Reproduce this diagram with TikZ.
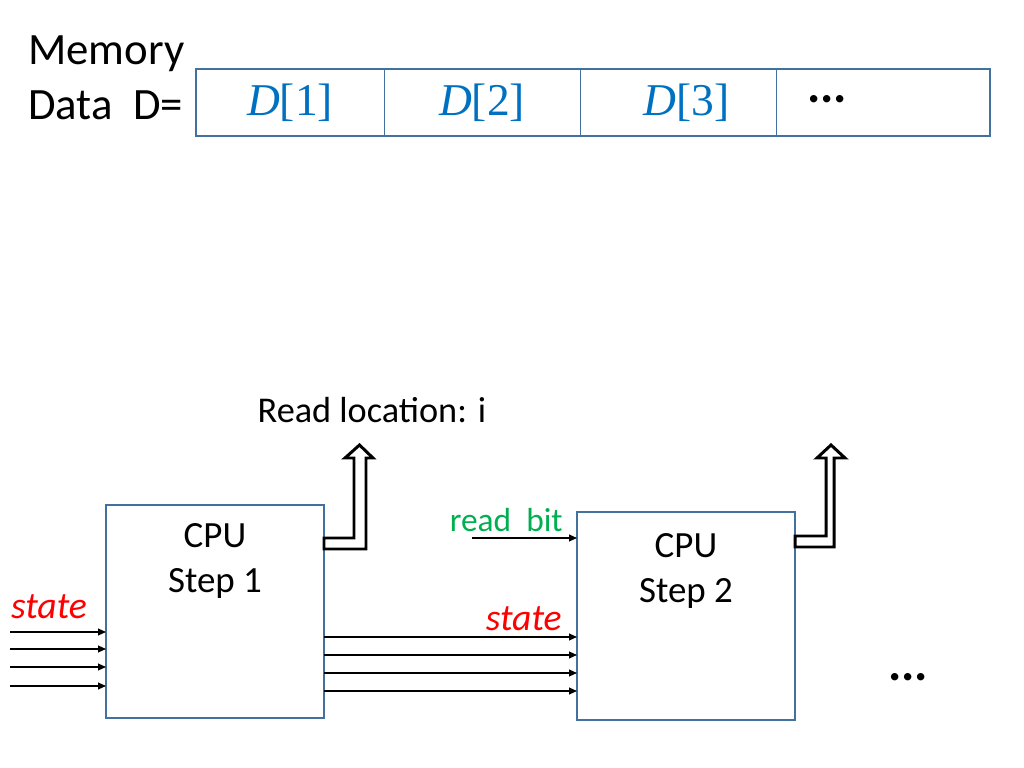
\documentclass[tikz,border=0pt]{standalone}
\usepackage{fontspec}
\setmainfont{Carlito}
\newfontfamily\cellfont{Liberation Serif}
\usetikzlibrary{arrows.meta,positioning,calc}
\definecolor{boxblue}{HTML}{41719C}
\definecolor{cellblue}{HTML}{0070C0}
\definecolor{statered}{HTML}{FF0000}
\definecolor{bitgreen}{HTML}{00B050}
\def\px{0.703125pt}
\tikzset{
  cell/.style={draw=boxblue,line width=0.7pt,minimum height=67*\px,inner sep=0pt,outer sep=0pt,
    text=cellblue,font=\cellfont\fontsize{32}{38}\selectfont},
  memory/.style={draw=boxblue,line width=1.8pt},
  cpu/.style={draw=boxblue,line width=1.4pt,minimum width=218*\px,inner sep=0pt,outer sep=0pt},
  cputext/.style={align=center,inner sep=0pt,font=\fontsize{26}{31.6}\selectfont},
  sig/.style={line width=1pt,-{Triangle[length=5.6pt,width=4.8pt]}},
  bent/.style={draw=black,fill=white,line width=2.1pt,line join=miter},
  statelbl/.style={text=statered,inner sep=0pt,font=\itshape\fontsize{26.5}{30}\selectfont},
  moredots/.style={inner sep=0pt,font=\bfseries\fontsize{35}{38}\selectfont}
}
\begin{document}
\begin{tikzpicture}[x=\px,y=-\px]
  \useasboundingbox (0,0) rectangle (1024,768);
  \node[align=left,inner sep=0pt,anchor=north west,font=\fontsize{31.5}{38.7}\selectfont] (memlbl) at (28,35)
    {Memory\\Data\ \ D=};
  \node[cell,minimum width=188*\px] (cell1) at (290,102.5) {\raisebox{-3pt}{\textit{D}[1]}};
  \node[cell,minimum width=196*\px,right=0pt of cell1] (cell2) {\textit{D}[2]\hspace{10pt}};
  \node[cell,minimum width=196*\px,right=0pt of cell2] (cell3) {\hspace{12pt}\raisebox{-3pt}{\textit{D}[3]}};
  \node[cell,minimum width=214*\px,right=0pt of cell3] (cell4) {};
  \draw[memory] (cell1.north west) rectangle (cell4.south east);
  \node[moredots] (memdots) at (827,99) {...};

  \node[cpu,minimum height=213*\px] (cpu1) at (215,611.5) {};
  \node[cpu,minimum height=208*\px] (cpu2) at (686,616) {};
  \node[cputext,below=18*\px of cpu1.north] (cpu1txt) {CPU\\Step 1};
  \node[cputext,below=21*\px of cpu2.north] (cpu2txt) {CPU\\Step 2};

  \draw[bent] ($(cpu1.north east)+(0,33)$) -- ++(30,0) -- ++(0,-80) -- ++(-9,0)
    -- ++(14.5,-13) -- ++(13.5,13) -- ++(-7,0) -- ++(0,91) -- ++(-42,0) -- cycle;
  \draw[bent] ($(cpu2.north east)+(0,24)$) -- ++(31,0) -- ++(0,-78) -- ++(-9,0)
    -- ++(14,-13) -- ++(14,13) -- ++(-11,0) -- ++(0,89) -- ++(-39,0) -- cycle;
  \node[inner sep=0pt,font=\fontsize{25.5}{30}\selectfont] (readloc) at (372,410) {Read location: i};

  \node[statelbl] (state1) at (49,607) {state};
  \foreach \y in {632,649,667,686} {
    \coordinate (in\y) at (10,\y);
    \draw[sig] (in\y) -- (cpu1.west |- in\y);
  }
  \node[statelbl,anchor=east] (state2) at (562,619) {state};
  \foreach \y in {637,655,673,691} {
    \coordinate (mid\y) at (0,\y);
    \draw[sig] (cpu1.east |- mid\y) -- (cpu2.west |- mid\y);
  }
  \node[text=bitgreen,inner sep=0pt,anchor=east,font=\fontsize{23.5}{27}\selectfont] (bitlbl) at (563,520) {read\ \ bit};
  \coordinate (bitin) at (472,538);
  \draw[sig] (bitin) -- (cpu2.west |- bitin);

  \node[moredots] (cpudots) at (908,677) {...};
\end{tikzpicture}
\end{document}
